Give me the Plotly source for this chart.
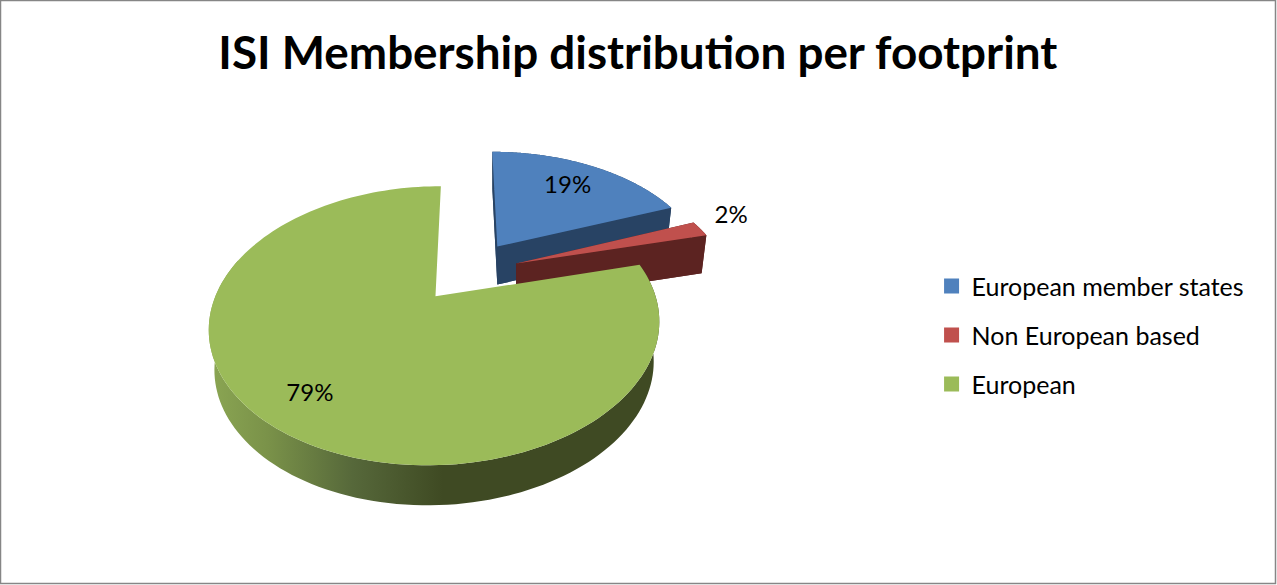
import numpy as np
import plotly.graph_objects as go

# ---- data ----
categories = ["European member states", "Non European based", "European"]
shares = [19, 2, 79]
colors_top = ["#4f81bd", "#c0504d", "#9bbb59"]
colors_side = ["#284364", "#5c2321", "#3f4a23"]
title_text = "ISI Membership distribution per footprint"

# ---- style / projection of the tilted pie plane onto the chart axes ----
explode = [0.27, 0.25, 0.23]
label_radius = [0.72, 1.18, 0.78]
label_lift = [1, -6, 4]
depth = [38, 38, 40]
BOTTOM_SCALE = 0.975
X0, Y0, SX, SY, PERSP = 466.5, 273, 212, 123.7, 0.203
FONT = "Lato, Carlito, Calibri, sans-serif"


def project(u, v):
    s = 1 + PERSP * np.asarray(v)
    return X0 + SX * np.asarray(u) / s, Y0 - SY * np.asarray(v) / s


total = sum(shares)
bounds = np.concatenate([[0], np.cumsum(shares)]) / total * 2 * np.pi

fig = go.Figure()
labels = []
for i, name in enumerate(categories):
    a0, a1 = bounds[i], bounds[i + 1]
    mid = (a0 + a1) / 2
    tu, tv = explode[i] * np.sin(mid), explode[i] * np.cos(mid)
    t = np.linspace(a0, a1, 160)
    u = np.concatenate([[tu], tu + np.sin(t), [tu]])
    v = np.concatenate([[tv], tv + np.cos(t), [tv]])
    x, y = project(u, v)
    bx = x[0] + (x - x[0]) * BOTTOM_SCALE
    by = y + depth[i]

    # outer wall band (front-facing part only); small slices also get lower outline and radial walls
    front = np.cos(t) < 0.3 if i == 2 else np.ones_like(t, dtype=bool)
    arc_x, arc_y = x[1:-1][front], y[1:-1][front]
    arc_bx, arc_by = bx[1:-1][front], by[1:-1][front]
    walls = [(np.r_[arc_x, arc_bx[::-1], arc_x[0]], np.r_[arc_y, arc_by[::-1], arc_y[0]])]
    if i != 2:
        walls.append((bx, by))
        for k in (1, -2):
            walls.append((np.r_[x[0], x[k], bx[k], bx[0], x[0]], np.r_[y[0], y[k], by[k], by[0], y[0]]))
    for wx, wy in walls:
        side = dict(x=wx, y=wy, mode="none", fill="toself", hoverinfo="skip", showlegend=False)
        if i == 2:
            side["fillgradient"] = dict(
                type="horizontal", start=float(x.min()), stop=float(x.max()),
                colorscale=[[0, "#8ba653"], [0.13, "#7a9249"], [0.32, "#56683a"],
                            [0.52, "#3f4a23"], [1, "#3f4a23"]],
            )
        else:
            side["fillcolor"] = colors_side[i]
        fig.add_trace(go.Scatter(**side))

    fig.add_trace(go.Scatter(x=x, y=y, mode="none", fill="toself", fillcolor=colors_top[i],
                             hoverinfo="skip", showlegend=False))
    lx, ly = project(tu + label_radius[i] * np.sin(mid), tv + label_radius[i] * np.cos(mid))
    labels.append((float(lx), float(ly) + label_lift[i], f"{shares[i]}%"))

fig.add_trace(go.Scatter(x=[p[0] for p in labels], y=[p[1] for p in labels],
                         text=[p[2] for p in labels], mode="text", textposition="middle center",
                         textfont=dict(family=FONT, size=24, color="#000000"),
                         hoverinfo="skip", showlegend=False))

# legend entries
for name, col in zip(categories, colors_top):
    fig.add_trace(go.Scatter(x=[None], y=[None], mode="markers", name=name, legendgroup=name,
                             marker=dict(symbol="square", size=15, color=col)))

fig.update_layout(
    width=1277,
    height=585,
    margin=dict(l=0, r=0, t=0, b=0),
    paper_bgcolor="#ffffff",
    plot_bgcolor="#ffffff",
    title=dict(text=f"<b>{title_text}</b>", x=0.4995, xanchor="center", xref="paper",
               y=0.91, yanchor="middle", yref="container",
               font=dict(family=FONT, size=45.8, color="#000000")),
    xaxis=dict(range=[0, 1277], visible=False, fixedrange=True, domain=[0, 1]),
    yaxis=dict(range=[585, 0], visible=False, fixedrange=True, domain=[0, 1]),
    legend=dict(x=0.7295, y=0.55, xanchor="left", yanchor="top", tracegroupgap=13.5,
                font=dict(family=FONT, size=25, color="#000000"), itemclick=False, itemdoubleclick=False),
    shapes=[dict(type="rect", xref="x", yref="y", x0=0.5, y0=0.5, x1=1275.5, y1=583.5,
                 line=dict(color="#868686", width=1.5), layer="below")],
)
fig.write_html("out.html", config=dict(displayModeBar=False),
               post_script="document.body.style.margin='0';document.body.style.overflow='hidden';")
